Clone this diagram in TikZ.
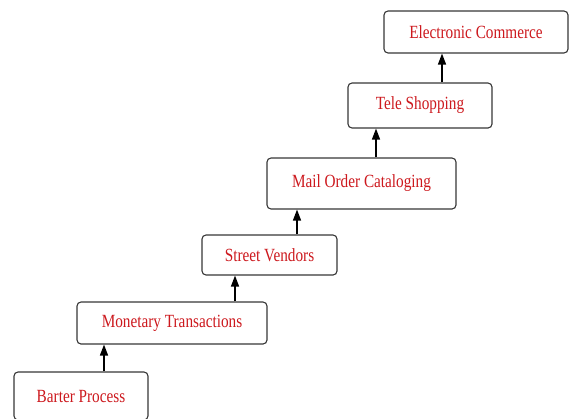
\documentclass[tikz,border=0pt]{standalone}
\usepackage{fontspec}
\setmainfont[FakeStretch=0.82]{Liberation Serif}
\usetikzlibrary{arrows.meta}
\definecolor{txtred}{RGB}{205,25,30}
\definecolor{boxgray}{RGB}{55,55,55}
\tikzset{
  stage/.style={draw=boxgray, line width=1.1pt, rounded corners=4pt, fill=white,
    text=txtred, inner sep=0pt, font=\fontsize{18.6}{20}\selectfont},
  arr/.style={-{Triangle[length=11pt,width=8pt]}, line width=1.4pt, black}
}
\begin{document}
\begin{tikzpicture}[x=1pt,y=-1pt]
\clip (0,0) rectangle (569,418);
\useasboundingbox (0,0) rectangle (569,418);
\node[stage, minimum width=134pt, minimum height=48pt] (barter) at (81,396) {Barter Process};
\node[stage, minimum width=190pt, minimum height=42pt] (monetary) at (172,323) {Monetary Transactions};
\node[stage, minimum width=135pt, minimum height=40pt] (street) at (269.5,255) {Street Vendors};
\node[stage, minimum width=189pt, minimum height=51pt] (mail) at (361.5,183.5) {Mail Order Cataloging};
\node[stage, minimum width=144pt, minimum height=45pt] (tele) at (420,105.5) {Tele Shopping};
\node[stage, minimum width=184pt, minimum height=42pt] (ecom) at (476,32) {Electronic Commerce};
\draw[arr] ([xshift=23pt]barter.north) -- ([xshift=23pt]barter.north |- monetary.south);
\draw[arr] ([xshift=63pt]monetary.north) -- ([xshift=63pt]monetary.north |- street.south);
\draw[arr] ([xshift=27.5pt]street.north) -- ([xshift=27.5pt]street.north |- mail.south);
\draw[arr] ([xshift=14.5pt]mail.north) -- ([xshift=14.5pt]mail.north |- tele.south);
\draw[arr] ([xshift=22pt]tele.north) -- ([xshift=22pt]tele.north |- ecom.south);
\end{tikzpicture}
\end{document}
